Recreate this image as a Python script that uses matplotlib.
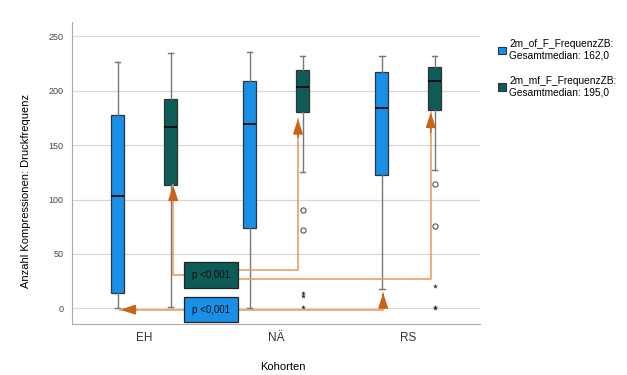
import matplotlib
matplotlib.use("Agg")
import matplotlib.pyplot as plt
import matplotlib.patches as mpatches

plt.rcParams['font.family'] = ['Liberation Sans', 'DejaVu Sans']

# cohorts on the x axis
kohorten = ["EH", "NÄ", "RS"]

# box statistics per cohort (whisker low, Q1, median, Q3, whisker high)
of_low = [0, 0, 18]
of_q1 = [14, 74, 123]
of_med = [103, 169, 184]
of_q3 = [178, 209, 217]
of_high = [226, 236, 232]

mf_low = [1, 125, 127]
mf_q1 = [113, 180, 182]
mf_med = [167, 203, 209]
mf_q3 = [192, 219, 222]
mf_high = [235, 232, 232]

# outliers (circles) and extremes (stars) of the mf series
mf_outliers = [[], [90, 72], [114, 76]]
mf_extremes = [[], [14, 11, 1], [21, 1, 0]]

legend_labels = ["2m_of_F_FrequenzZB:\nGesamtmedian: 162,0",
                 "2m_mf_F_FrequenzZB:\nGesamtmedian: 195,0"]

col_of = '#1a8fe8'
col_mf = '#0d5c57'
col_line = '#e8975a'
col_arrow = '#cc6218'

fig = plt.figure(figsize=(6.27, 3.75), dpi=100)
ax = fig.add_axes([0.115, 0.137, 0.651, 0.804])

offset = 0.2
width = 0.1


def make_stats(low, q1, med, q3, high):
    stats = []
    for i in range(len(low)):
        stats.append({'whislo': low[i], 'q1': q1[i], 'med': med[i],
                      'q3': q3[i], 'whishi': high[i], 'fliers': []})
    return stats


for stats, pos, col in [
        (make_stats(of_low, of_q1, of_med, of_q3, of_high), -offset, col_of),
        (make_stats(mf_low, mf_q1, mf_med, mf_q3, mf_high), offset, col_mf)]:
    ax.bxp(stats, positions=[i + pos for i in range(len(kohorten))],
           widths=width, patch_artist=True, showfliers=False,
           boxprops=dict(facecolor=col, edgecolor='#333333', linewidth=0.9),
           medianprops=dict(color='#111111', linewidth=1.4),
           whiskerprops=dict(color='#777777', linewidth=1.0),
           capprops=dict(color='#777777', linewidth=1.0),
           capwidths=0.04, zorder=3)

for i in range(len(kohorten)):
    xs = [i + offset] * len(mf_outliers[i])
    ax.scatter(xs, mf_outliers[i], marker='o', s=14, facecolors='white',
               edgecolors='#555555', linewidths=0.8, zorder=4)
    xs = [i + offset] * len(mf_extremes[i])
    ax.scatter(xs, mf_extremes[i], marker='*', s=14, color='#333333',
               linewidths=0, zorder=4)

ax.set_xlim(-0.545, 2.545)
ax.set_ylim(-14, 263)
ax.set_yticks([0, 50, 100, 150, 200, 250])
ax.set_xticks(range(len(kohorten)))
ax.set_xticklabels(kohorten, fontsize=8.5, color='#333333')
ax.tick_params(axis='y', length=0, labelsize=6.5, labelcolor='#444444', pad=6)
ax.tick_params(axis='x', length=0, pad=6)
ax.yaxis.grid(True, color='#d8d8d8', linewidth=0.9)
ax.set_axisbelow(True)
for s in ['top', 'right']:
    ax.spines[s].set_visible(False)
for s in ['left', 'bottom']:
    ax.spines[s].set_color('#aaaaaa')

ax.set_ylabel('Anzahl Kompressionen: Druckfrequenz', fontsize=8)
ax.yaxis.set_label_coords(-0.1, 0.44)
ax.set_xlabel('Kohorten', fontsize=8)
ax.xaxis.set_label_coords(0.517, -0.128)

# significance annotations
box_x = 0.508
ax.text(box_x, 30.5, 'p <0,001', fontsize=7, color='#111111', ha='center',
        va='center', zorder=6,
        bbox=dict(boxstyle='square,pad=0.8', facecolor=col_mf,
                  edgecolor='#222222', linewidth=0.9))
ax.text(box_x, -1.2, 'p <0,001', fontsize=7, color='#111111', ha='center',
        va='center', zorder=6,
        bbox=dict(boxstyle='square,pad=0.8', facecolor=col_of,
                  edgecolor='#222222', linewidth=0.9))

head = '-|>,head_length=0.9,head_width=0.3'


def bracket(xs, ys):
    ax.plot(xs, ys, color=col_line, linewidth=1.1, zorder=5)
    # short dark arrow segment at the end of the path
    if xs[-1] == xs[-2]:
        start = (xs[-1], ys[-1] - (ys[-1] - ys[-2]) * 0.12)
    else:
        start = (xs[-1] - (xs[-1] - xs[-2]) * 0.25, ys[-1])
    ax.annotate('', xy=(xs[-1], ys[-1]), xytext=start,
                arrowprops=dict(arrowstyle=head, color=col_arrow,
                                linewidth=1.1, shrinkA=0, shrinkB=0),
                zorder=6)


bracket([0.3, 0.22, 0.22], [30.3, 30.3, mf_q1[0]])
bracket([0.7, 1.165, 1.165], [35, 35, mf_q1[1] - 6])
bracket([0.7, 2.17, 2.17], [27.3, 27.3, mf_q1[2] - 2])
bracket([0.3, -0.18], [-1.2, -1.2])
bracket([0.7, 1.81, 1.81], [-1.2, -1.2, of_low[2] - 4])

handles = [mpatches.Patch(facecolor=col_of, edgecolor='#333333', linewidth=0.8),
           mpatches.Patch(facecolor=col_mf, edgecolor='#333333', linewidth=0.8)]
fig.legend(handles, legend_labels, loc='upper left',
           bbox_to_anchor=(0.78, 0.92), frameon=False, fontsize=7.3,
           handlelength=0.8, handleheight=0.8, handletextpad=0.3,
           labelspacing=1.5)

fig.savefig('out.png', dpi=100)
